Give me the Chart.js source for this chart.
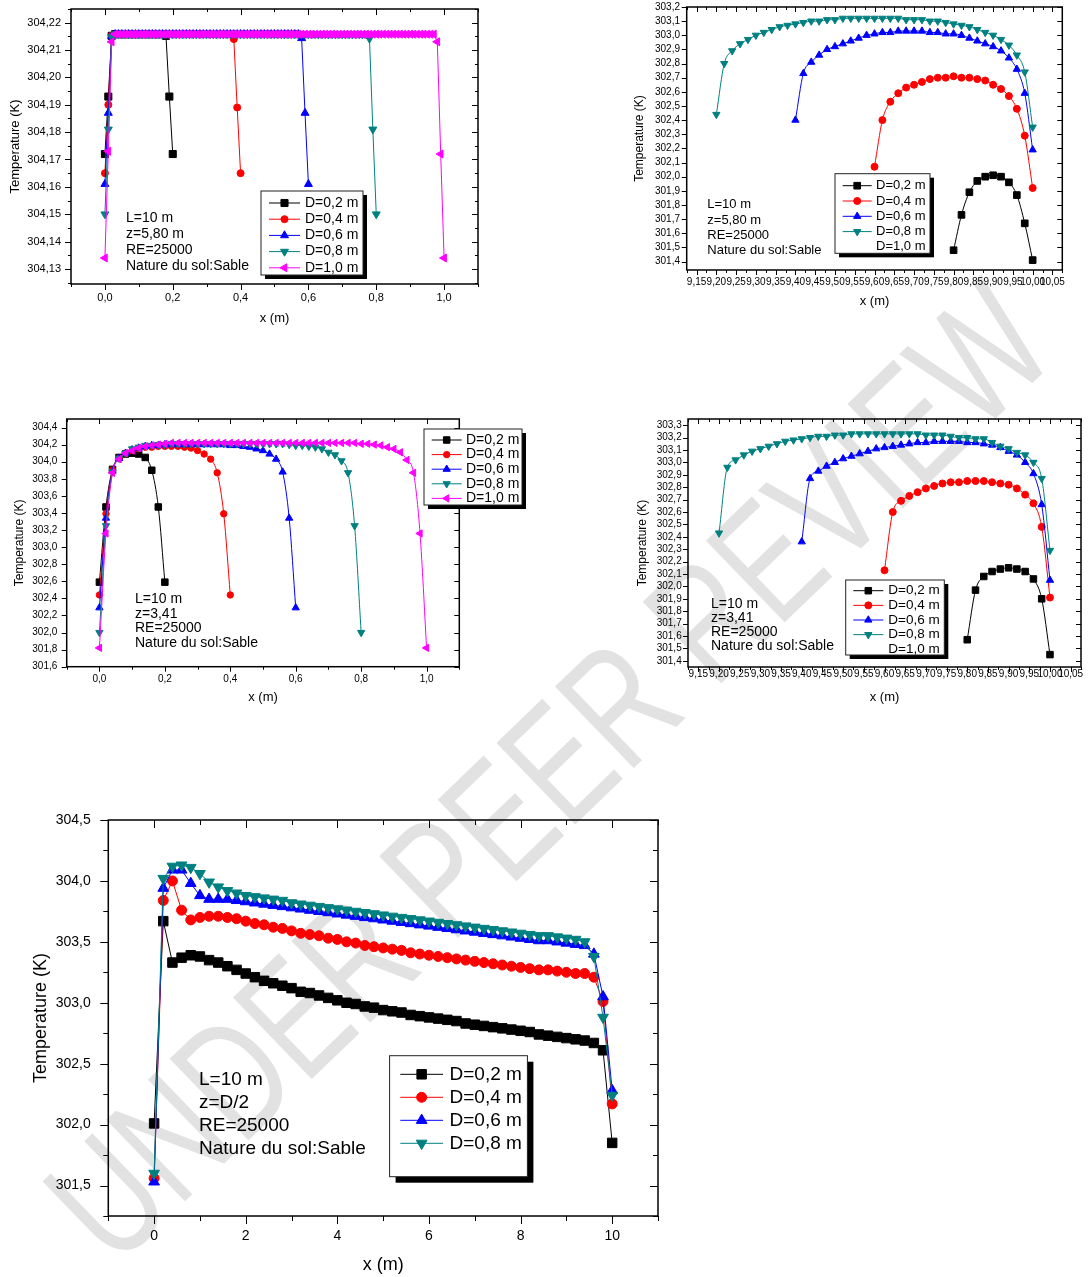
<!DOCTYPE html>
<html lang="fr">
<head>
<meta charset="utf-8">
<title>Température le long de la conduite</title>
<script src="https://cdn.jsdelivr.net/npm/chart.js@4.4.1/dist/chart.umd.min.js"></script>
<style>
  html, body { margin: 0; padding: 0; background: #fff; }
  body { position: relative; width: 1088px; height: 1277px; overflow: hidden; }
  canvas { position: absolute; }
  #filigrane {
    position: absolute; left: 548px; top: 772px;
    transform: translate(-50%, -50%) rotate(-44deg) scale(1, 1.35);
    font: 122px "Liberation Sans", Arial, sans-serif;
    line-height: 1; white-space: nowrap; color: #e2e2e2;
  }
</style>
</head>
<body>
<div id="filigrane">UNDER PEER REVIEW</div>
<canvas id="g1"></canvas>
<canvas id="g2"></canvas>
<canvas id="g3"></canvas>
<canvas id="g4"></canvas>
<canvas id="g5"></canvas>
<script>
// ---- Libellés ----
const ETIQUETTES_D = ['D=0,2 m', 'D=0,4 m', 'D=0,6 m', 'D=0,8 m', 'D=1,0 m'];
const NOTES_580 = ['L=10 m', 'z=5,80 m', 'RE=25000', 'Nature du sol:Sable'];
const NOTES_341 = ['L=10 m', 'z=3,41', 'RE=25000', 'Nature du sol:Sable'];
const NOTES_D2 = ['L=10 m', 'z=D/2', 'RE=25000', 'Nature du sol:Sable'];

// ---- Graduations ----
const TICKS_X_COURT = [0, 0.2, 0.4, 0.6, 0.8, 1.0];
const TICKS_Y_580 = [304.13, 304.14, 304.15, 304.16, 304.17, 304.18, 304.19, 304.20, 304.21, 304.22];
const TICKS_X_FIN = [9.15, 9.20, 9.25, 9.30, 9.35, 9.40, 9.45, 9.50, 9.55, 9.60,
                     9.65, 9.70, 9.75, 9.80, 9.85, 9.90, 9.95, 10.00, 10.05];
const TICKS_Y_580F = [301.4, 301.5, 301.6, 301.7, 301.8, 301.9, 302.0, 302.1, 302.2, 302.3,
                      302.4, 302.5, 302.6, 302.7, 302.8, 302.9, 303.0, 303.1, 303.2];
const TICKS_Y_341 = [301.6, 301.8, 302.0, 302.2, 302.4, 302.6, 302.8, 303.0, 303.2, 303.4,
                     303.6, 303.8, 304.0, 304.2, 304.4];
const TICKS_Y_341F = [301.4, 301.5, 301.6, 301.7, 301.8, 301.9, 302.0, 302.1, 302.2, 302.3,
                      302.4, 302.5, 302.6, 302.7, 302.8, 302.9, 303.0, 303.1, 303.2, 303.3];
const TICKS_X_L = [0, 2, 4, 6, 8, 10];
const TICKS_Y_D2 = [301.5, 302.0, 302.5, 303.0, 303.5, 304.0, 304.5];

// ---- z = 5,80 m, entrée de la conduite (pas 0,01 m) ----
const T580_D02 = [
  304.172, 304.193, 304.2152,
  304.2158, 304.2158, 304.2158, 304.2158, 304.2158, 304.2158, 304.2158, 304.2158, 304.2158, 304.2158,
  304.2158, 304.2158, 304.2158, 304.2158, 304.2158,
  304.2152, 304.193, 304.172
];
const T580_D04 = [
  304.165, 304.190, 304.2152,
  304.2158, 304.2158, 304.2158, 304.2158, 304.2158, 304.2158, 304.2158, 304.2158, 304.2158, 304.2158,
  304.2158, 304.2158, 304.2158, 304.2158, 304.2158, 304.2158, 304.2158, 304.2158, 304.2158, 304.2158,
  304.2158, 304.2158, 304.2158, 304.2158, 304.2158, 304.2158, 304.2158, 304.2158, 304.2158, 304.2158,
  304.2158, 304.2158, 304.2158, 304.2158, 304.2158,
  304.2140, 304.189, 304.165
];
const T580_D06 = [
  304.161, 304.187, 304.2150,
  304.2158, 304.2158, 304.2158, 304.2158, 304.2158, 304.2158, 304.2158, 304.2158, 304.2158, 304.2158,
  304.2158, 304.2158, 304.2158, 304.2158, 304.2158, 304.2158, 304.2158, 304.2158, 304.2158, 304.2158,
  304.2158, 304.2158, 304.2158, 304.2158, 304.2158, 304.2158, 304.2158, 304.2158, 304.2158, 304.2158,
  304.2158, 304.2158, 304.2158, 304.2158, 304.2158, 304.2158, 304.2158, 304.2158, 304.2158, 304.2158,
  304.2158, 304.2158, 304.2158, 304.2158, 304.2158, 304.2158, 304.2158, 304.2158, 304.2158, 304.2158,
  304.2158, 304.2158, 304.2158, 304.2158, 304.2158,
  304.2143, 304.187, 304.161
];
const T580_D08 = [
  304.150, 304.181, 304.2148,
  304.2158, 304.2158, 304.2158, 304.2158, 304.2158, 304.2158, 304.2158, 304.2158, 304.2158, 304.2158,
  304.2158, 304.2158, 304.2158, 304.2158, 304.2158, 304.2158, 304.2158, 304.2158, 304.2158, 304.2158,
  304.2158, 304.2158, 304.2158, 304.2158, 304.2158, 304.2158, 304.2158, 304.2158, 304.2158, 304.2158,
  304.2158, 304.2158, 304.2158, 304.2158, 304.2158, 304.2158, 304.2158, 304.2158, 304.2158, 304.2158,
  304.2158, 304.2158, 304.2158, 304.2158, 304.2158, 304.2158, 304.2158, 304.2158, 304.2158, 304.2158,
  304.2158, 304.2158, 304.2158, 304.2158, 304.2158, 304.2158, 304.2158, 304.2158, 304.2158, 304.2158,
  304.2158, 304.2158, 304.2158, 304.2158, 304.2158, 304.2158, 304.2158, 304.2158, 304.2158, 304.2158,
  304.2158, 304.2158, 304.2158, 304.2158, 304.2158,
  304.2142, 304.181, 304.150
];
const T580_D10 = [
  304.134, 304.173, 304.2130,
  304.2158, 304.2158, 304.2158, 304.2158, 304.2158, 304.2158, 304.2158, 304.2158, 304.2158, 304.2158,
  304.2158, 304.2158, 304.2158, 304.2158, 304.2158, 304.2158, 304.2158, 304.2158, 304.2158, 304.2158,
  304.2158, 304.2158, 304.2158, 304.2158, 304.2158, 304.2158, 304.2158, 304.2158, 304.2158, 304.2158,
  304.2158, 304.2158, 304.2158, 304.2158, 304.2158, 304.2158, 304.2158, 304.2158, 304.2158, 304.2158,
  304.2158, 304.2158, 304.2158, 304.2158, 304.2158, 304.2158, 304.2158, 304.2158, 304.2158, 304.2158,
  304.2158, 304.2158, 304.2158, 304.2158, 304.2158, 304.2158, 304.2158, 304.2158, 304.2158, 304.2158,
  304.2158, 304.2158, 304.2158, 304.2158, 304.2158, 304.2158, 304.2158, 304.2158, 304.2158, 304.2158,
  304.2158, 304.2158, 304.2158, 304.2158, 304.2158, 304.2158, 304.2158, 304.2158, 304.2158, 304.2158,
  304.2158, 304.2158, 304.2158, 304.2158, 304.2158, 304.2158, 304.2158, 304.2158, 304.2158, 304.2158,
  304.2158, 304.2158, 304.2158, 304.2158, 304.2158,
  304.2130, 304.172, 304.134
];

// ---- z = 5,80 m, sortie de la conduite (pas 0,02 m) ----
const T580F_D02 = [301.48, 301.73, 301.89, 301.97, 302.00, 302.01, 302.00, 301.96, 301.87, 301.67, 301.41];
const T580F_D04 = [302.07, 302.40, 302.53, 302.59, 302.63, 302.65, 302.67, 302.69, 302.70, 302.70,
                   302.71, 302.70, 302.70, 302.69, 302.68, 302.65, 302.62, 302.57, 302.48, 302.29, 301.92];
const T580F_D06 = [302.40, 302.73, 302.81, 302.86, 302.90, 302.92, 302.94, 302.96, 302.98, 303.00,
                   303.01, 303.02, 303.02, 303.03, 303.03, 303.03, 303.03, 303.02, 303.02, 303.01,
                   303.01, 303.00, 302.98, 302.96, 302.94, 302.92, 302.89, 302.84, 302.76, 302.59, 302.19];
const T580F_D08 = [302.44, 302.80, 302.89, 302.94, 302.97, 303.00, 303.02, 303.04, 303.06, 303.07,
                   303.08, 303.09, 303.10, 303.10, 303.11, 303.11, 303.12, 303.12, 303.12, 303.12,
                   303.12, 303.12, 303.12, 303.12, 303.11, 303.11, 303.11, 303.10, 303.10, 303.09,
                   303.08, 303.07, 303.06, 303.04, 303.02, 303.00, 302.97, 302.93, 302.86, 302.74, 302.35];

// ---- z = 3,41 m, entrée (pas 0,02 m) ----
const T341_D02 = [302.59, 303.47, 303.91, 304.05, 304.09, 304.10, 304.09, 304.05, 303.90, 303.47, 302.59];
const T341_D04 = [302.44, 303.39, 303.90, 304.04, 304.10, 304.13, 304.15, 304.17, 304.17, 304.18,
                  304.18, 304.18, 304.18, 304.17, 304.16, 304.13, 304.09, 304.03, 303.87, 303.39, 302.44];
const T341_D06 = [302.29, 303.34, 303.89, 304.04, 304.10, 304.14, 304.16, 304.18, 304.19, 304.19,
                  304.20, 304.20, 304.20, 304.20, 304.20, 304.20, 304.20, 304.20, 304.20, 304.20,
                  304.19, 304.19, 304.18, 304.17, 304.15, 304.13, 304.09, 304.03, 303.88, 303.34, 302.29];
const T341_D08 = [302.00, 303.25, 303.88, 304.04, 304.10, 304.15, 304.17, 304.19, 304.19, 304.20, 304.20,
                  304.21, 304.21, 304.21, 304.21, 304.21, 304.21, 304.21, 304.21, 304.21,
                  304.21, 304.21, 304.21, 304.21, 304.21, 304.21, 304.21, 304.21, 304.21,
                  304.20, 304.19, 304.19, 304.18, 304.17, 304.15, 304.11, 304.08, 304.01, 303.87, 303.25, 302.00];
const T341_D10 = [301.82, 303.16, 303.87, 304.03, 304.10, 304.13, 304.16, 304.18, 304.19, 304.20, 304.21,
                  304.22, 304.22, 304.22, 304.22, 304.22, 304.22, 304.22, 304.22, 304.22, 304.22,
                  304.22, 304.22, 304.22, 304.22, 304.22, 304.22, 304.22, 304.22, 304.22, 304.22,
                  304.22, 304.22, 304.22, 304.22, 304.22, 304.22, 304.22, 304.22, 304.22,
                  304.21, 304.21, 304.20, 304.19, 304.17, 304.15, 304.11, 304.02, 303.87, 303.16, 301.82];

// ---- z = 3,41 m, sortie (pas 0,02 m) ----
const T341F_D02 = [301.57, 301.97, 302.08, 302.12, 302.14, 302.15, 302.14, 302.12, 302.06, 301.90, 301.45];
const T341F_D04 = [302.13, 302.60, 302.69, 302.73, 302.76, 302.79, 302.81, 302.83, 302.84, 302.84,
                   302.85, 302.85, 302.85, 302.84, 302.83, 302.82, 302.79, 302.74, 302.67, 302.48, 301.91];
const T341F_D06 = [302.36, 302.87, 302.93, 302.97, 303.00, 303.03, 303.05, 303.07, 303.09, 303.11,
                   303.12, 303.13, 303.14, 303.15, 303.16, 303.16, 303.17, 303.17, 303.17, 303.17,
                   303.16, 303.16, 303.15, 303.14, 303.12, 303.09, 303.06, 303.00, 302.91, 302.66, 302.05];
const T341F_D08 = [302.43, 302.96, 303.02, 303.06, 303.09, 303.11, 303.13, 303.15, 303.17, 303.18,
                   303.19, 303.20, 303.21, 303.21, 303.22, 303.22, 303.23, 303.23, 303.23, 303.23,
                   303.23, 303.23, 303.23, 303.23, 303.23, 303.22, 303.22, 303.22, 303.21, 303.20,
                   303.20, 303.19, 303.19, 303.16, 303.13, 303.11, 303.08, 303.06, 303.00, 302.87, 302.29];

// ---- z = D/2, toute la longueur (pas 0,2 m) ----
const TD2_D02 = [302.01, 303.67, 303.33, 303.37, 303.39, 303.38, 303.35, 303.33, 303.30, 303.27,
                 303.24, 303.21, 303.18, 303.16, 303.14, 303.12, 303.09, 303.08, 303.06, 303.04,
                 303.02, 303.00, 302.99, 302.97, 302.96, 302.94, 302.93, 302.92, 302.90, 302.89,
                 302.88, 302.87, 302.86, 302.85, 302.83, 302.82, 302.81, 302.80, 302.79, 302.78,
                 302.77, 302.76, 302.74, 302.73, 302.72, 302.71, 302.70, 302.69, 302.67, 302.61, 301.85];
const TD2_D04 = [301.56, 303.84, 304.00, 303.76, 303.68, 303.70, 303.71, 303.71, 303.70, 303.69,
                 303.67, 303.65, 303.64, 303.62, 303.61, 303.59, 303.57, 303.56, 303.55, 303.53,
                 303.52, 303.50, 303.49, 303.47, 303.46, 303.45, 303.44, 303.43, 303.41, 303.40,
                 303.39, 303.38, 303.37, 303.36, 303.35, 303.34, 303.33, 303.32, 303.31, 303.30,
                 303.29, 303.28, 303.27, 303.27, 303.26, 303.25, 303.24, 303.24, 303.21, 303.01, 302.17];
const TD2_D06 = [301.53, 303.94, 304.09, 304.09, 303.98, 303.88, 303.85, 303.85, 303.85, 303.84,
                 303.83, 303.82, 303.81, 303.80, 303.79, 303.78, 303.77, 303.76, 303.75, 303.74,
                 303.73, 303.72, 303.71, 303.70, 303.69, 303.68, 303.67, 303.66, 303.65, 303.64,
                 303.63, 303.62, 303.61, 303.60, 303.59, 303.58, 303.57, 303.56, 303.55, 303.54,
                 303.53, 303.52, 303.51, 303.51, 303.50, 303.49, 303.48, 303.47, 303.40, 303.05, 302.28];
const TD2_D08 = [301.60, 304.02, 304.12, 304.13, 304.11, 304.06, 303.99, 303.95, 303.92, 303.90,
                 303.88, 303.87, 303.86, 303.85, 303.84, 303.82, 303.81, 303.80, 303.79, 303.78,
                 303.77, 303.76, 303.75, 303.74, 303.73, 303.72, 303.71, 303.70, 303.69, 303.68,
                 303.67, 303.66, 303.65, 303.64, 303.63, 303.62, 303.61, 303.60, 303.59, 303.58,
                 303.57, 303.56, 303.55, 303.55, 303.54, 303.53, 303.52, 303.50, 303.38, 302.88, 302.24];

// abscisses régulières le long de la conduite
function abscisses(debut, pas, n) {
  const xs = [];
  for (let k = 0; k < n; k++) xs.push(+(debut + k * pas).toFixed(3));
  return xs;
}
const serie = (debut, pas, ys) => ({ x: abscisses(debut, pas, ys.length), y: ys });

const POLICE = '"Liberation Sans", Arial, Helvetica, sans-serif';
Chart.defaults.font.family = POLICE;
Chart.defaults.color = '#000';

const virgule = (v, d) => Number(v).toFixed(d).replace('.', ',');

const STYLES = [
  { couleur: '#000000', forme: 'rect', rotation: 0 },
  { couleur: '#ff0000', forme: 'circle', rotation: 0 },
  { couleur: '#0000ff', forme: 'triangle', rotation: 0 },
  { couleur: '#008080', forme: 'triangle', rotation: 180 },
  { couleur: '#ff00ff', forme: 'triangle', rotation: -90 },
];

const GRAPHIQUES = [
  {
    id: 'g1', boite: { x: 0, y: 0, l: 490, h: 332 }, zone: { g: 71, h: 9, d: 478, b: 284 },
    xMin: -0.1, xMax: 1.1, yMin: 304.1245, yMax: 304.225,
    ticksX: TICKS_X_COURT, ticksY: TICKS_Y_580, decX: 1, decY: 2, mineurX: 0.1, mineurY: 0.005,
    policeTicks: 11, padX: 7, padY: 10,
    titreX: { taille: 13, pb: 6.2 }, titreY: { taille: 13, pt: 7.2 },
    lisse: false, rayons: { rect: 5, circle: 3.5, triangle: 4.6 },
    series: [serie(0, 0.01, T580_D02), serie(0, 0.01, T580_D04), serie(0, 0.01, T580_D06),
             serie(0, 0.01, T580_D08), serie(0, 0.01, T580_D10)],
    legende: { n: 5, boite: { g: 261, h: 191, d: 363, b: 275 }, ombre: 4, y0: 203, dy: 16.2, x1: 269, x2: 300, xt: 305, taille: 14 },
    notes: { lignes: NOTES_580, x: 126, y0: 217.7, dy: 16.2, taille: 14 },
    traits: { majeur: 6, mineur: 3, cadre: 1.5 },
  },
  {
    id: 'g2', boite: { x: 625, y: 0, l: 463, h: 315 }, zone: { g: 686.7, h: 7, d: 1062.3, b: 270 },
    xMin: 9.125, xMax: 10.075, yMin: 301.34, yMax: 303.2,
    ticksX: TICKS_X_FIN, ticksY: TICKS_Y_580F, decX: 2, decY: 1, mineurX: 0.025, mineurY: 0,
    policeTicks: 10, padX: 6.7, padY: 6.7,
    titreX: { taille: 13, pb: 6.2 }, titreY: { taille: 12, pt: 7.8 },
    lisse: true, rayons: { rect: 4.7, circle: 3.5, triangle: 4.2 },
    series: [serie(9.8, 0.02, T580F_D02), serie(9.6, 0.02, T580F_D04),
             serie(9.4, 0.02, T580F_D06), serie(9.2, 0.02, T580F_D08)],
    legende: { n: 5, boite: { g: 835, h: 173.7, d: 930, b: 253.3 }, ombre: 4, y0: 185.7, dy: 15.3, x1: 842.7, x2: 871.7, xt: 876, taille: 13 },
    notes: { lignes: NOTES_580, x: 707.3, y0: 204.7, dy: 15.3, taille: 13 },
    traits: { majeur: 5, mineur: 3, cadre: 1.5 },
  },
  {
    id: 'g3', boite: { x: 0, y: 410, l: 540, h: 300 }, zone: { g: 66.7, h: 419, d: 459.3, b: 666.7 },
    xMin: -0.1, xMax: 1.1, yMin: 301.6, yMax: 304.5,
    ticksX: TICKS_X_COURT, ticksY: TICKS_Y_341, decX: 1, decY: 1, mineurX: 0.1, mineurY: 0,
    policeTicks: 10, padX: 6.3, padY: 9.4,
    titreX: { taille: 13, pb: 4.5 }, titreY: { taille: 12, pt: 12.8 },
    lisse: true, rayons: { rect: 4.6, circle: 3.2, triangle: 4.2 },
    series: [serie(0, 0.02, T341_D02), serie(0, 0.02, T341_D04), serie(0, 0.02, T341_D06),
             serie(0, 0.02, T341_D08), serie(0, 0.02, T341_D10)],
    legende: { n: 5, boite: { g: 424, h: 429, d: 522, b: 505 }, ombre: 4, y0: 440, dy: 14.6, x1: 431.7, x2: 461.7, xt: 466, taille: 14 },
    notes: { lignes: NOTES_341, x: 135, y0: 599.3, dy: 14.5, taille: 14 },
    traits: { majeur: 5, mineur: 3, cadre: 1.5 },
  },
  {
    id: 'g4', boite: { x: 625, y: 410, l: 463, h: 300 }, zone: { g: 688, h: 419, d: 1081, b: 667 },
    xMin: 9.125, xMax: 10.075, yMin: 301.35, yMax: 303.35,
    ticksX: TICKS_X_FIN, ticksY: TICKS_Y_341F, decX: 2, decY: 1, mineurX: 0.025, mineurY: 0,
    policeTicks: 10, padX: 1.7, padY: 6.3,
    titreX: { taille: 13, pb: 4.5 }, titreY: { taille: 12, pt: 10.8 },
    lisse: true, rayons: { rect: 4.6, circle: 3.5, triangle: 4.2 },
    series: [serie(9.8, 0.02, T341F_D02), serie(9.6, 0.02, T341F_D04),
             serie(9.4, 0.02, T341F_D06), serie(9.2, 0.02, T341F_D08)],
    legende: { n: 5, boite: { g: 845.7, h: 580, d: 944.3, b: 655 }, ombre: 4, y0: 590.7, dy: 14.65, x1: 853.3, x2: 883.3, xt: 888.3, taille: 13.5 },
    notes: { lignes: NOTES_341, x: 711, y0: 604.3, dy: 14.1, taille: 14 },
    traits: { majeur: 5, mineur: 3, cadre: 1.5 },
  },
  {
    id: 'g5', boite: { x: 0, y: 810, l: 680, h: 467 }, zone: { g: 108.3, h: 820, d: 658, b: 1216 },
    xMin: -1, xMax: 11, yMin: 301.25, yMax: 304.5,
    ticksX: TICKS_X_L, ticksY: TICKS_Y_D2, decX: 0, decY: 1, mineurX: 1, mineurY: 0.25,
    policeTicks: 14, padX: 11.6, padY: 17.5,
    titreX: { taille: 18, pb: 1.2 }, titreY: { taille: 18, pt: 30.7 },
    lisse: false, rayons: { rect: 6.7, circle: 5, triangle: 6.2 },
    series: [serie(0, 0.2, TD2_D02), serie(0, 0.2, TD2_D04), serie(0, 0.2, TD2_D06), serie(0, 0.2, TD2_D08)],
    legende: { n: 4, boite: { g: 389.6, h: 1055.7, d: 527.4, b: 1176.7 }, ombre: 6, y0: 1074.3, dy: 23, x1: 400.3, x2: 443, xt: 449.5, taille: 19 },
    notes: { lignes: NOTES_D2, x: 199, y0: 1080, dy: 23, taille: 19 },
    traits: { majeur: 8, mineur: 5, cadre: 1.5 },
  },
];

function trait(ctx, x1, y1, x2, y2) {
  ctx.beginPath(); ctx.moveTo(x1, y1); ctx.lineTo(x2, y2); ctx.stroke();
}

// graduations secondaires entre min et max
function mineures(scale, pas) {
  const res = [];
  if (!pas) return res;
  for (let k = Math.ceil(scale.min / pas - 1e-6); k * pas <= scale.max + 1e-9; k++) res.push(k * pas);
  return res;
}

function tracer(g) {
  const cv = document.getElementById(g.id);
  const b = g.boite, z = g.zone;
  cv.width = b.l; cv.height = b.h;
  cv.style.left = b.x + 'px'; cv.style.top = b.y + 'px';

  const datasets = g.series.map((s, i) => {
    const st = STYLES[i];
    return {
      label: ETIQUETTES_D[i],
      data: s.x.map((x, k) => ({ x, y: s.y[k] })),
      borderColor: st.couleur, backgroundColor: st.couleur,
      pointBackgroundColor: st.couleur, pointBorderColor: st.couleur,
      borderWidth: 1, pointBorderWidth: 1,
      pointStyle: st.forme, pointRotation: st.rotation, pointRadius: g.rayons[st.forme],
      cubicInterpolationMode: g.lisse ? 'monotone' : 'default', tension: 0,
      order: g.series.length - i,
    };
  });

  // cadre fermé, graduations sortantes en bas/à gauche, rentrantes en haut/à droite
  const cadre = {
    id: 'cadre',
    afterDraw(chart) {
      const { ctx, chartArea: a } = chart;
      const sx = chart.scales.x, sy = chart.scales.y;
      const t = g.traits;
      ctx.save();
      ctx.strokeStyle = '#000';
      ctx.lineWidth = 1;
      const gx = (v, L) => {
        const p = Math.round(sx.getPixelForValue(v)) + 0.5;
        trait(ctx, p, a.bottom, p, a.bottom + L);
        trait(ctx, p, a.top, p, a.top + L);
      };
      const gy = (v, L) => {
        const p = Math.round(sy.getPixelForValue(v)) + 0.5;
        trait(ctx, a.left - L, p, a.left, p);
        trait(ctx, a.right - L, p, a.right, p);
      };
      mineures(sx, g.mineurX).forEach(v => gx(v, t.mineur));
      mineures(sy, g.mineurY).forEach(v => gy(v, t.mineur));
      sx.ticks.forEach(k => gx(k.value, t.majeur));
      sy.ticks.forEach(k => gy(k.value, t.majeur));
      ctx.lineWidth = t.cadre;
      ctx.strokeRect(a.left, a.top, a.right - a.left, a.bottom - a.top);
      ctx.restore();
    },
  };

  // légende encadrée avec ombre portée
  const legende = {
    id: 'legende',
    afterDraw(chart) {
      const ctx = chart.ctx, L = g.legende, B = L.boite;
      const ox = b.x, oy = b.y;
      ctx.save();
      ctx.fillStyle = '#000';
      ctx.fillRect(B.g - ox + L.ombre, B.h - oy + L.ombre, B.d - B.g, B.b - B.h);
      ctx.fillStyle = '#fff';
      ctx.fillRect(B.g - ox, B.h - oy, B.d - B.g, B.b - B.h);
      ctx.strokeStyle = '#222';
      ctx.lineWidth = 1;
      ctx.strokeRect(B.g - ox, B.h - oy, B.d - B.g, B.b - B.h);
      ctx.font = L.taille + 'px ' + POLICE;
      ctx.textBaseline = 'middle';
      ctx.textAlign = 'left';
      ETIQUETTES_D.slice(0, L.n).forEach((texte, i) => {
        const y = L.y0 + i * L.dy - oy;
        const ds = chart.data.datasets[i];
        if (ds) {
          ctx.strokeStyle = ds.borderColor;
          ctx.fillStyle = ds.backgroundColor;
          ctx.lineWidth = 1;
          trait(ctx, L.x1 - ox, y, L.x2 - ox, y);
          Chart.helpers.drawPoint(ctx, {
            pointStyle: ds.pointStyle, rotation: ds.pointRotation,
            radius: ds.pointRadius, borderWidth: 1,
          }, (L.x1 + L.x2) / 2 - ox, y);
        }
        ctx.fillStyle = '#000';
        ctx.fillText(texte, L.xt - ox, y);
      });
      ctx.restore();
    },
  };

  // paramètres du calcul
  const notes = {
    id: 'notes',
    afterDraw(chart) {
      const ctx = chart.ctx, N = g.notes;
      ctx.save();
      ctx.font = N.taille + 'px ' + POLICE;
      ctx.fillStyle = '#000';
      ctx.textBaseline = 'middle';
      ctx.textAlign = 'left';
      N.lignes.forEach((t, i) => ctx.fillText(t, N.x - b.x, N.y0 + i * N.dy - b.y));
      ctx.restore();
    },
  };

  // l'écart étiquette/axe passe par tickLength (grille masquée) pour ne pas
  // gonfler les marges verticales de la zone de tracé
  new Chart(cv, {
    type: 'line',
    data: { datasets },
    plugins: [cadre, legende, notes],
    options: {
      responsive: false, animation: false, events: [], devicePixelRatio: 1,
      layout: { padding: { top: z.h - b.y, right: b.x + b.l - z.d, left: 0, bottom: 0 } },
      plugins: { legend: { display: false }, tooltip: { enabled: false } },
      scales: {
        x: {
          type: 'linear', min: g.xMin, max: g.xMax,
          grid: { display: false, drawTicks: true, tickLength: g.padX }, border: { display: false },
          afterFit: s => { s.height = b.y + b.h - z.b; },
          afterBuildTicks: s => { s.ticks = g.ticksX.map(v => ({ value: v })); },
          ticks: {
            autoSkip: false, maxRotation: 0, minRotation: 0, padding: 0,
            font: { size: g.policeTicks }, color: '#000',
            callback: v => virgule(v, g.decX),
          },
          title: {
            display: true, text: 'x (m)', color: '#000',
            font: { size: g.titreX.taille }, padding: { top: 0, bottom: g.titreX.pb },
          },
        },
        y: {
          type: 'linear', min: g.yMin, max: g.yMax,
          grid: { display: false, drawTicks: true, tickLength: g.padY }, border: { display: false },
          afterFit: s => { s.width = z.g - b.x; },
          afterBuildTicks: s => { s.ticks = g.ticksY.map(v => ({ value: v })); },
          ticks: {
            autoSkip: false, padding: 0,
            font: { size: g.policeTicks }, color: '#000',
            callback: v => virgule(v, g.decY),
          },
          title: {
            display: true, text: 'Temperature (K)', color: '#000',
            font: { size: g.titreY.taille }, padding: { top: g.titreY.pt, bottom: 0 },
          },
        },
      },
    },
  });
}

GRAPHIQUES.forEach(tracer);
</script>
</body>
</html>
